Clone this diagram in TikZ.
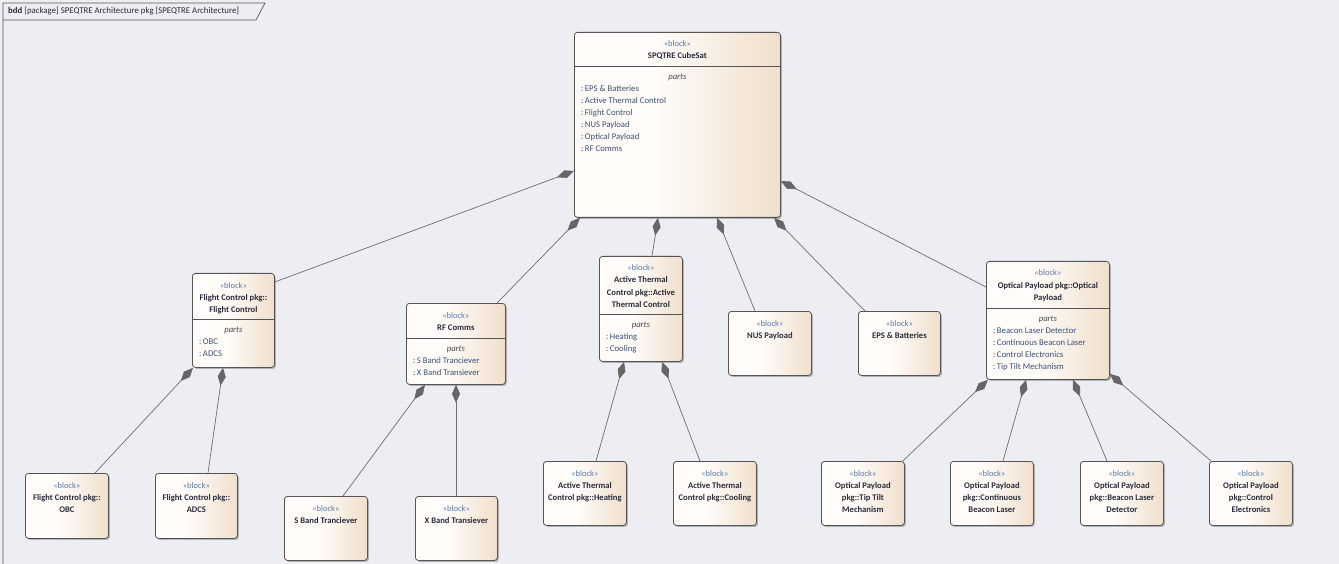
\documentclass[tikz,border=0pt]{standalone}
\usepackage{fontspec}
\setmainfont{Carlito}
\usetikzlibrary{calc,arrows.meta,shadows}
\definecolor{bgc}{HTML}{EDEEF3}
\definecolor{bordc}{HTML}{555555}
\definecolor{linec}{HTML}{6E6E6E}
\definecolor{diac}{HTML}{666666}
\definecolor{gL}{HTML}{FFFCF9}
\definecolor{gR}{HTML}{F0DFCC}
\definecolor{stc}{HTML}{5A7BAE}
\definecolor{ttc}{HTML}{2B2B3A}
\definecolor{itc}{HTML}{3B5078}
\pgfdeclarehorizontalshading{blkshade}{100bp}{color(0bp)=(gL); color(25bp)=(gL); color(45bp)=(gL); color(75bp)=(gR); color(100bp)=(gR)}
\tikzset{
  blk/.style={draw=bordc, line width=0.8pt, rounded corners=3pt, shading=blkshade, anchor=north west, inner sep=0pt,
    drop shadow={shadow xshift=1.5pt, shadow yshift=-1.5pt, fill=black, opacity=0.25}},
  stereo/.style={anchor=base, inner sep=0pt, text=stc, font=\fontsize{8.5}{12}\selectfont},
  ttl/.style={anchor=base, inner sep=0pt, text=ttc, font=\fontsize{8.6}{12}\selectfont\bfseries},
  partsl/.style={anchor=base, inner sep=0pt, text=black!70, font=\fontsize{8.7}{12}\selectfont\itshape},
  item/.style={anchor=base west, inner sep=0pt, text=itc, font=\fontsize{8.7}{12}\selectfont},
  divl/.style={draw=bordc, line width=0.7pt},
  comp/.style={draw=linec, line width=0.7pt, -{Diamond[length=18pt,width=8pt,fill=diac,color=diac]}},
  hdr/.style={anchor=base west, inner sep=0pt, text=ttc, font=\fontsize{8.8}{12}\selectfont}
}
\newcommand\sysblock[6]{%
  \node[blk, minimum width=#4pt, minimum height=#5pt] (#1) at (#2,#3) {};
  \node[stereo] (#1-st) at ($(#1.north)+(0,15)$) {«block»};
  \foreach \ln [count=\i] in {#6} {\node[ttl] (#1-t\i) at ($(#1.north)+(0,15+12*\i)$) {\ln};}
}
\newcommand\sysparts[3]{%
  \draw[divl] ($(#1.north west)+(0,#2)$) -- ($(#1.north east)+(0,#2)$);
  \node[partsl] (#1-p) at ($(#1.north)+(0,#2+13.5)$) {parts};
  \foreach \it [count=\i] in {#3} {\node[item] (#1-i\i) at ($(#1.north west)+(7,#2+13.5+12*\i)$) {:\,\it};}
}
\begin{document}
\begin{tikzpicture}[x=1pt,y=-1pt]
\fill[bgc] (0,0) rectangle (1339,564);
\useasboundingbox (0,0) rectangle (1339,564);
% frame
\draw[draw=bordc, line width=0.7pt] (3,600) -- (3,3) -- (265,3) -- (256,20) -- (3,20);
\node[hdr] (hdr) at (8,14) {\textbf{bdd} [package] SPEQTRE Architecture pkg [SPEQTRE Architecture]};

% blocks
\sysblock{cube}{574}{32}{206}{185}{SPQTRE CubeSat}
\sysparts{cube}{34}{EPS \& Batteries,Active Thermal Control,Flight Control,NUS Payload,Optical Payload,RF Comms}

\sysblock{fc}{192}{273}{82}{94}{Flight Control pkg::,Flight Control}
\sysparts{fc}{46}{OBC,ADCS}

\sysblock{rf}{406}{303}{99}{81}{RF Comms}
\sysparts{rf}{35}{S Band Tranciever,X Band Transiever}

\sysblock{atc}{599}{256}{83}{105}{Active Thermal,Control pkg::Active,Thermal Control}
\sysparts{atc}{58}{Heating,Cooling}

\sysblock{nus}{728}{311}{83}{64}{NUS Payload}
\sysblock{eps}{858}{311}{82}{64}{EPS \& Batteries}

\sysblock{opt}{986}{261}{123}{118}{Optical Payload pkg::Optical,Payload}
\sysparts{opt}{47}{Beacon Laser Detector,Continuous Beacon Laser,Control Electronics,Tip Tilt Mechanism}

\sysblock{obc}{25}{473}{83}{65}{Flight Control pkg::,OBC}
\sysblock{adcs}{155}{473}{82}{65}{Flight Control pkg::,ADCS}
\sysblock{sband}{284}{496}{83}{64}{S Band Tranciever}
\sysblock{xband}{415}{496}{82}{64}{X Band Transiever}
\sysblock{heat}{543}{461}{83}{64}{Active Thermal,Control pkg::Heating}
\sysblock{cool}{673}{461}{83}{64}{Active Thermal,Control pkg::Cooling}
\sysblock{tip}{821}{461}{83}{64}{Optical Payload,pkg::Tip Tilt,Mechanism}
\sysblock{cont}{950}{461}{83}{64}{Optical Payload,pkg::Continuous,Beacon Laser}
\sysblock{bdet}{1080}{461}{83}{64}{Optical Payload,pkg::Beacon Laser,Detector}
\sysblock{ctrl}{1209}{461}{83}{64}{Optical Payload,pkg::Control,Electronics}

% composition connectors (diamond at the whole)
\draw[comp] ($(fc.north east)+(0,9)$) -- ($(cube.north west)+(0,139)$);
\draw[comp] ($(rf.north west)+(91,0)$) -- ($(cube.south west)+(6,0)$);
\draw[comp] ($(atc.north west)+(53,0)$) -- ($(cube.south west)+(84,0)$);
\draw[comp] ($(nus.north west)+(27,0)$) -- ($(cube.south west)+(143,0)$);
\draw[comp] ($(eps.north west)+(7,0)$) -- ($(cube.south west)+(200,0)$);
\draw[comp] ($(opt.north west)+(0,26)$) -- ($(cube.north east)+(0,149)$);

\draw[comp] ($(obc.north west)+(70,0)$) -- ($(fc.south west)+(1,0)$);
\draw[comp] ($(adcs.north west)+(53,0)$) -- ($(fc.south west)+(31,0)$);
\draw[comp] ($(sband.north west)+(59,0)$) -- ($(rf.south west)+(19,0)$);
\draw[comp] ($(xband.north west)+(41,0)$) -- ($(rf.south west)+(50,0)$);
\draw[comp] ($(heat.north west)+(53,0)$) -- ($(atc.south west)+(25,0)$);
\draw[comp] ($(cool.north west)+(27,0)$) -- ($(atc.south west)+(63,0)$);
\draw[comp] ($(tip.north east)+(-2,0)$) -- ($(opt.south west)+(2,0)$);
\draw[comp] ($(cont.north west)+(53,0)$) -- ($(opt.south west)+(40,0)$);
\draw[comp] ($(bdet.north west)+(27,0)$) -- ($(opt.south west)+(87,0)$);
\draw[comp] ($(ctrl.north west)+(2,0)$) -- ($(opt.south east)+(0,-6)$);
\end{tikzpicture}
\end{document}
